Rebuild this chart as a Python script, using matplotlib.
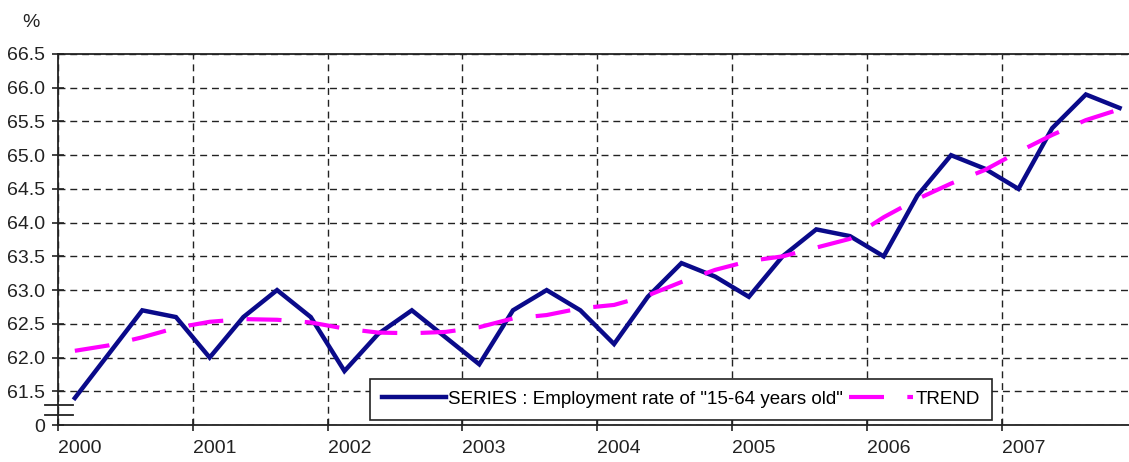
import matplotlib
matplotlib.use("Agg")
import matplotlib.pyplot as plt
import matplotlib.transforms as mtransforms

plt.rcParams['font.family'] = ['Liberation Sans', 'DejaVu Sans']

# Quarterly observations 2000Q1 .. 2007Q4
years = list(range(2000, 2008))
quarters = [1, 2, 3, 4]
employment_rate = [
    61.4, 62.05, 62.7, 62.6,
    62.0, 62.6, 63.0, 62.6,
    61.8, 62.35, 62.7, 62.3,
    61.9, 62.7, 63.0, 62.7,
    62.2, 62.9, 63.4, 63.2,
    62.9, 63.5, 63.9, 63.8,
    63.5, 64.4, 65.0, 64.8,
    64.5, 65.4, 65.9, 65.7,
]
trend = [
    62.10, 62.18, 62.30, 62.44,
    62.53, 62.57, 62.56, 62.52,
    62.43, 62.37, 62.36, 62.38,
    62.45, 62.58, 62.63, 62.73,
    62.78, 62.92, 63.12, 63.30,
    63.43, 63.50, 63.63, 63.76,
    64.08, 64.35, 64.58, 64.78,
    65.05, 65.30, 65.52, 65.68,
]
ytick_values = [61.0, 61.5, 62.0, 62.5, 63.0, 63.5, 64.0, 64.5, 65.0, 65.5, 66.0, 66.5]
ytick_labels = ["0", "61.5", "62.0", "62.5", "63.0", "63.5", "64.0", "64.5",
                "65.0", "65.5", "66.0", "66.5"]
series_label = 'SERIES : Employment rate of "15-64 years old"'
trend_label = 'TREND'

# mid-quarter positions on a continuous year axis
t = [y + (q - 0.5) / 4 for y in years for q in quarters]

INK = '#222222'
FS = 14

fig = plt.figure(figsize=(11.29, 4.62), dpi=100)
ax = fig.add_axes([58 / 1129, 1 - 425 / 462, 1 - 58 / 1129, (425 - 54) / 462])

ax.plot(t, employment_rate, color='#0a0a8a', lw=3.2, solid_joinstyle='miter',
        label=series_label, zorder=3)
ax.plot(t, trend, color='#ff00ff', lw=3.0, dashes=(8.4, 5.6),
        label=trend_label, zorder=4)

ax.set_xlim(2000, 2007.945)
ax.set_ylim(61.0, 66.5)
ax.set_xticks(years)
ax.set_xticklabels([str(y) for y in years], ha='left')
for lbl in ax.get_xticklabels():
    lbl.set_transform(lbl.get_transform() +
                      mtransforms.ScaledTranslation(-3 / 100, 0, fig.dpi_scale_trans))
ax.set_yticks(ytick_values)
ax.set_yticklabels(ytick_labels)
ax.tick_params(axis='both', direction='inout', length=9, width=1.2,
               labelsize=FS, colors=INK)
ax.tick_params(axis='x', pad=6)
ax.tick_params(axis='y', pad=5)

for s in ['left', 'bottom', 'top']:
    ax.spines[s].set_linewidth(1.3)
    ax.spines[s].set_color(INK)
ax.spines['right'].set_visible(False)

ax.grid(True, which='major', color=INK, lw=1.0, linestyle=(0, (5, 3.5)))
ax.set_axisbelow(True)

# axis-break marks near the bottom of the value axis
brk = mtransforms.blended_transform_factory(ax.transAxes, ax.transData)
for yb in (61.30, 61.15):
    ax.plot([-0.012, 0.014], [yb, yb], color=INK, lw=1.3,
            transform=brk, clip_on=False, zorder=5)

leg = ax.legend(loc='lower left', bbox_to_anchor=(0.291, 0.013), ncol=2,
                frameon=True, fancybox=False, framealpha=1, edgecolor=INK,
                fontsize=13.5, handlelength=3.4, columnspacing=0.3,
                handletextpad=0.15, borderpad=0.65, borderaxespad=0)
leg.get_frame().set_linewidth(1.2)

fig.text(22 / 1129, 1 - 27 / 462, '%', fontsize=FS, color=INK)

fig.savefig('out.png', dpi=100)
